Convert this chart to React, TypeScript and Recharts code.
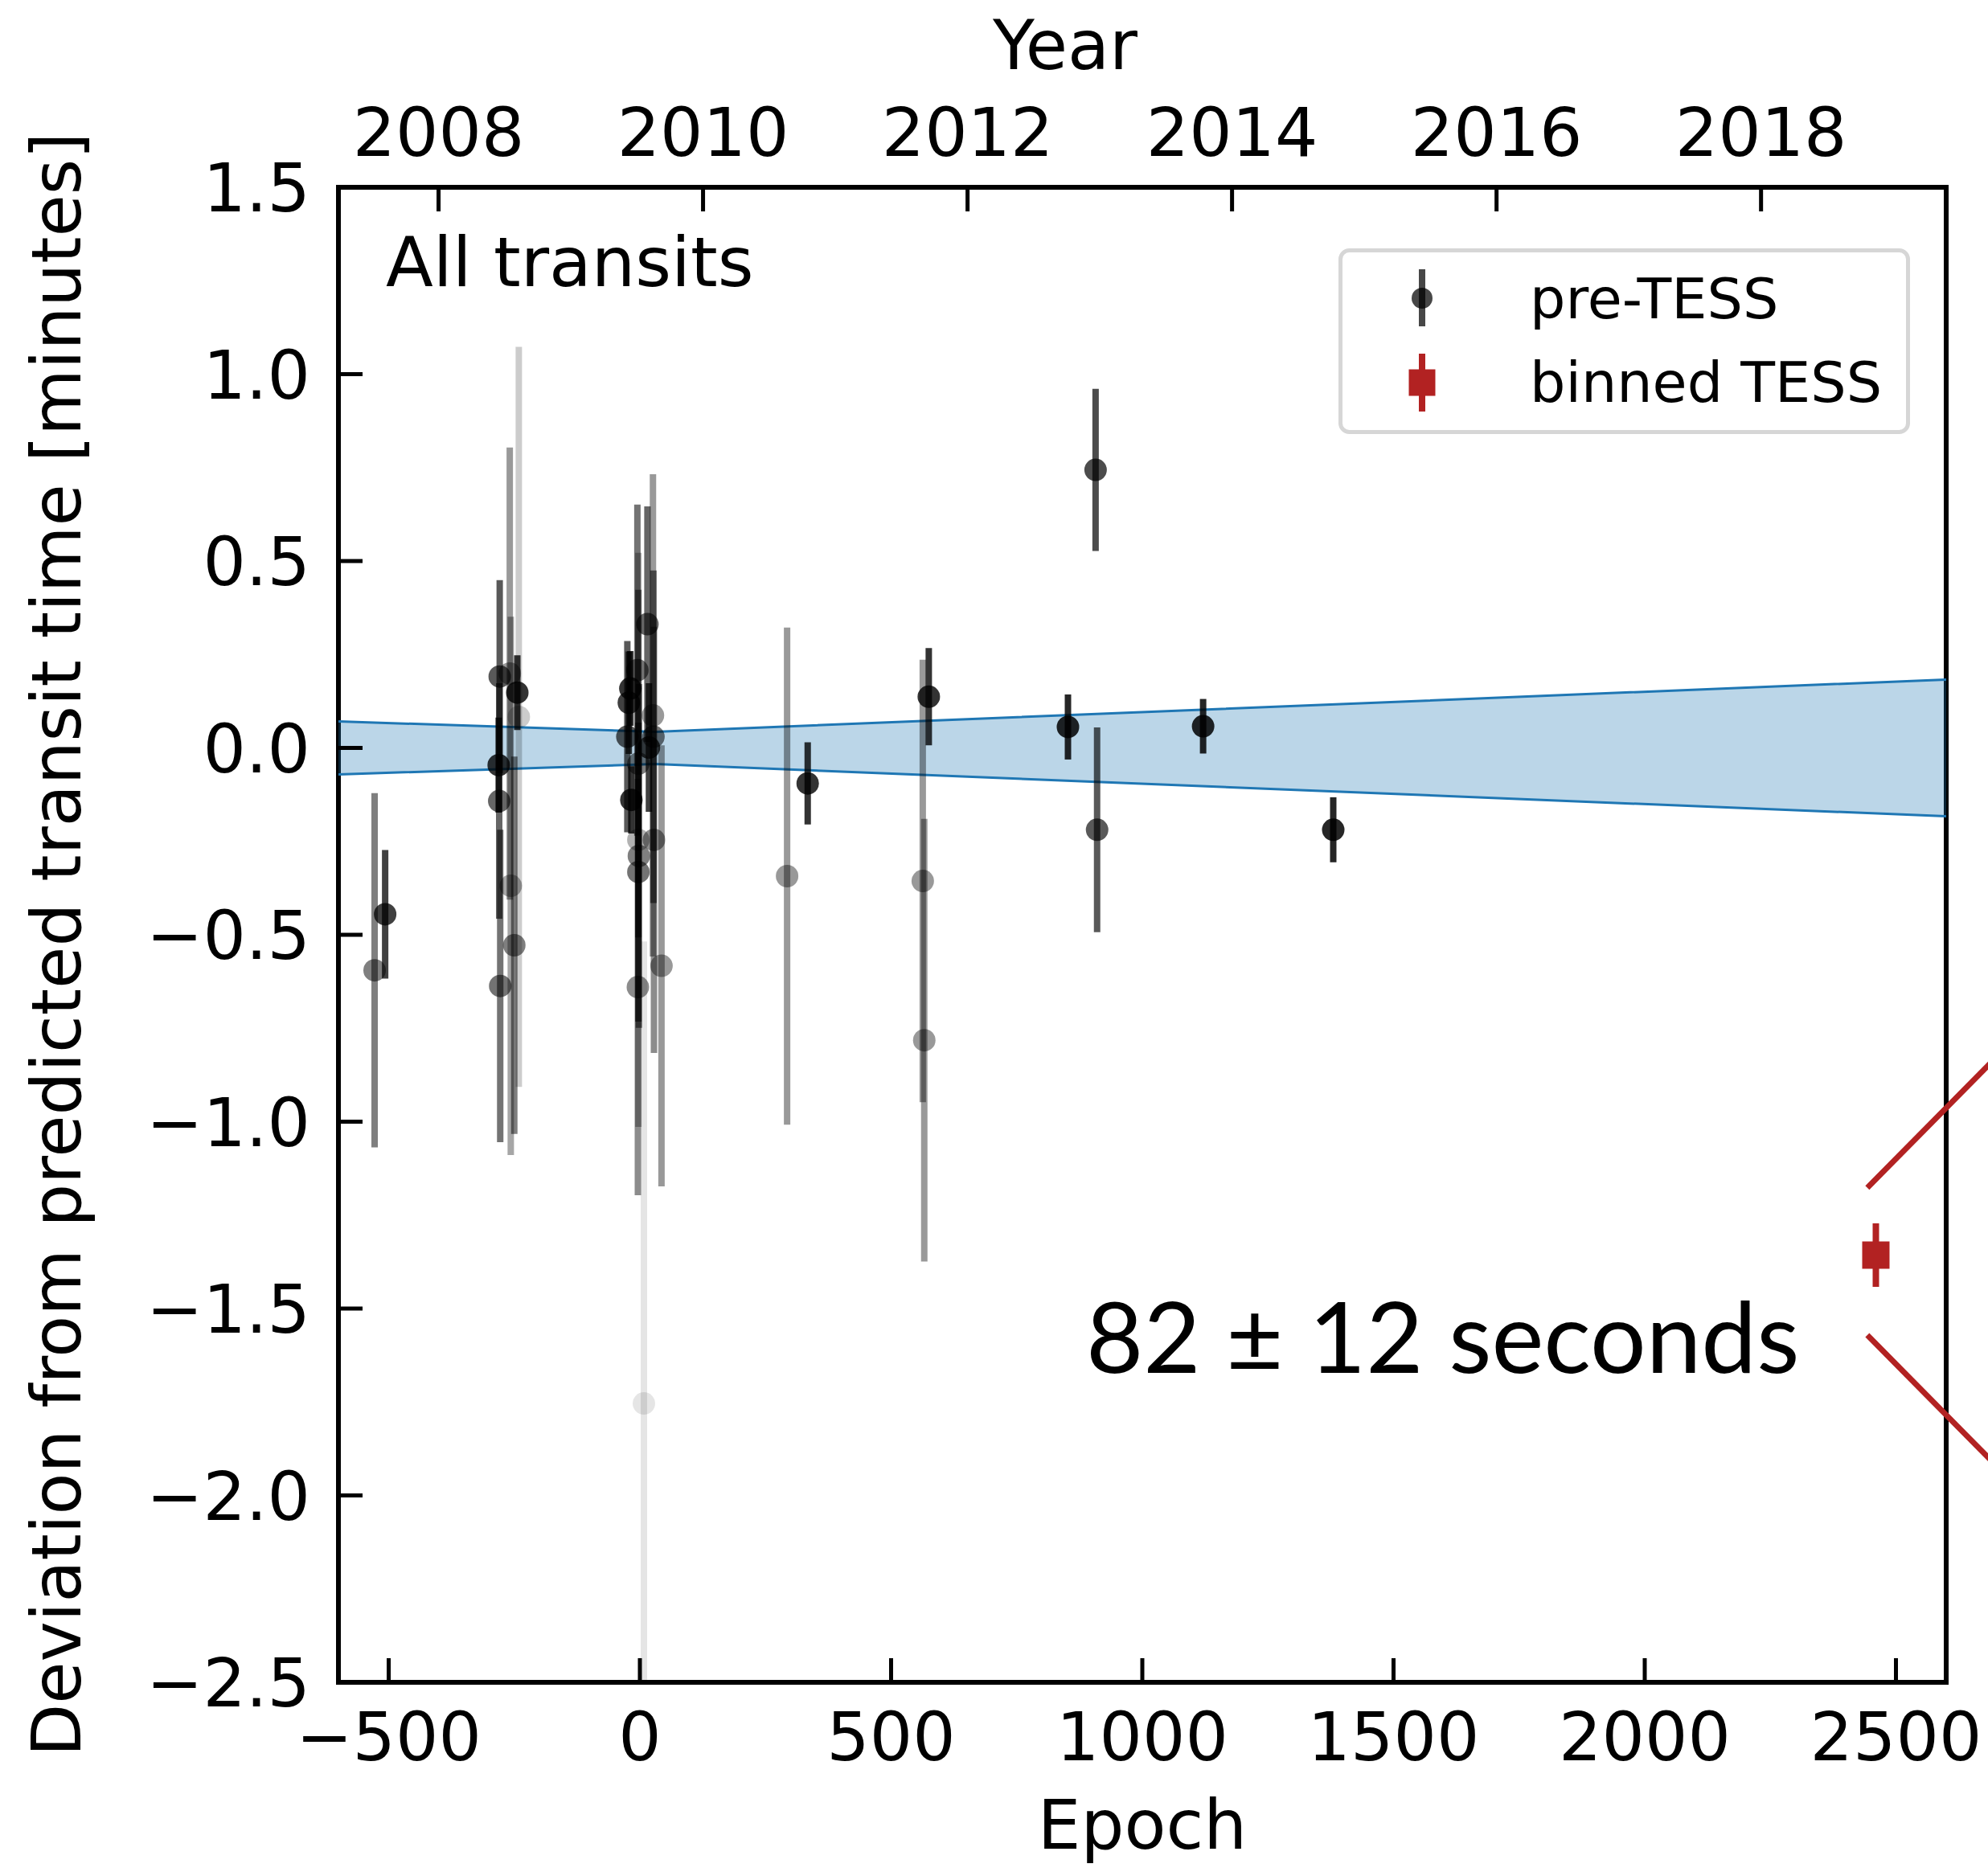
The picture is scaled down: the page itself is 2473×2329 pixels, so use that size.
import React from 'react';
import {
  ComposedChart,
  Scatter,
  Area,
  XAxis,
  YAxis,
  ErrorBar,
  ReferenceLine,
  Legend,
  Customized,
} from 'recharts';

const FONT = '"DejaVu Sans", sans-serif';

// pre-TESS mid-transit times: epoch, deviation from ephemeris [min], 1-sigma error [min]
const preEpoch = [
  -528, -507,
  -281, -280, -279, -278, -259, -257, -250, -244, -241,
  -25, -22, -19, -17, -5, -3, -3, -2, -3, -4, 8, 15, 18, 26, 27, 28, 43,
  293, 334, 563, 566, 575, 852, 907, 910, 1121, 1380,
];
const preDev = [
  -0.595, -0.445,
  -0.046, -0.142, 0.191, -0.637, 0.199, -0.369, -0.528, 0.148, 0.083,
  0.03, 0.121, 0.159, -0.139, 0.208, -0.042, -0.246, -0.289, -0.332, -0.64, -1.754, 0.331, 0.001, 0.087, 0.03, -0.246, -0.583,
  -0.343, -0.095, -0.356, -0.782, 0.137, 0.056, 0.744, -0.219, 0.058, -0.219,
];
const preErr = [
  0.474, 0.172,
  0.127, 0.315, 0.258, 0.418, 0.605, 0.72, 0.505, 0.1, 0.99,
  0.256, 0.137, 0.1, 0.09, 0.443, 0.465, 0.768, 0.46, 0.4, 0.557, 1.236, 0.315, 0.172, 0.645, 0.445, 0.57, 0.59,
  0.665, 0.11, 0.592, 0.592, 0.13, 0.087, 0.217, 0.274, 0.073, 0.087,
];

// binned TESS point
const tessEpoch = [2460];
const tessDev = [-1.357];
const tessErr = [0.085];

// ephemeris uncertainty envelope
const bandEpoch = [-600, 30, 2600];
const bandLow = [-0.071, -0.043, -0.183];
const bandHigh = [0.071, 0.043, 0.183];

// zoom guide lines next to the TESS point
const guideEpoch = [2443, 2800];
const guideUpper = [-1.177, -0.691];
const guideLower = [-1.571, -2.057];

const epochTicks = [-500, 0, 500, 1000, 1500, 2000, 2500];
const yearTicks = [2008, 2010, 2012, 2014, 2016, 2018];
const devTicks = [-2.5, -2.0, -1.5, -1.0, -0.5, 0.0, 0.5, 1.0, 1.5];
const yearDomain = [2007.243, 2019.4];

const W = 2473;
const H = 2329;
const PLOT = { left: 421, top: 233, right: 2421, bottom: 2093 };
const TICK_LEN = 30;
const TICK_W = 5;
const RED = '#b22222';
const BLUE = '#1f77b4';

const minus = (s: string) => s.replace('-', '\u2212');

// points with smaller errors are drawn darker
const opacityOf = (err: number) =>
  Math.max(0.1, Math.min(0.86, 0.95 - 0.78 * Math.pow(err, 0.75)));

const groups = (() => {
  const m = new Map<number, { epoch: number; dev: number; err: number }[]>();
  preEpoch.forEach((e, i) => {
    const a = Math.round(opacityOf(preErr[i]) * 20) / 20;
    if (!m.has(a)) m.set(a, []);
    m.get(a)!.push({ epoch: e, dev: preDev[i], err: preErr[i] });
  });
  return Array.from(m.entries()).sort((a, b) => a[0] - b[0]);
})();

const tessData = tessEpoch.map((e, i) => ({ epoch: e, dev: tessDev[i], err: tessErr[i] }));
const bandData = bandEpoch.map((e, i) => ({ epoch: e, band: [bandLow[i], bandHigh[i]] }));

const LeftTick = (p: any) => (
  <g>
    <line x1={PLOT.left} y1={p.y} x2={PLOT.left + TICK_LEN} y2={p.y} stroke="#000" strokeWidth={TICK_W} />
    <text x={PLOT.left - 35} y={p.y} dy="0.36em" textAnchor="end" fontSize={84} fontFamily={FONT} fill="#000">
      {minus(Number(p.payload.value).toFixed(1))}
    </text>
  </g>
);

const BottomTick = (p: any) => (
  <g>
    <line x1={p.x} y1={PLOT.bottom} x2={p.x} y2={PLOT.bottom - TICK_LEN} stroke="#000" strokeWidth={TICK_W} />
    <text x={p.x} y={2190} textAnchor="middle" fontSize={84} fontFamily={FONT} fill="#000">
      {minus(String(p.payload.value))}
    </text>
  </g>
);

const TopTick = (p: any) => (
  <g>
    <line x1={p.x} y1={PLOT.top} x2={p.x} y2={PLOT.top + TICK_LEN} stroke="#000" strokeWidth={TICK_W} />
    <text x={p.x} y={194} textAnchor="middle" fontSize={84} fontFamily={FONT} fill="#000">
      {String(p.payload.value)}
    </text>
  </g>
);

const Overlay = () => (
  <g>
    <defs>
      <clipPath id="plot-area-clip" clipPathUnits="userSpaceOnUse">
        <rect x={PLOT.left} y={PLOT.top} width={PLOT.right - PLOT.left} height={PLOT.bottom - PLOT.top} />
      </clipPath>
    </defs>
    <style>{'.recharts-errorBar, .recharts-errorBars { clip-path: url(#plot-area-clip); }'}</style>
    <rect
      x={PLOT.left}
      y={PLOT.top}
      width={PLOT.right - PLOT.left}
      height={PLOT.bottom - PLOT.top}
      fill="none"
      stroke="#000"
      strokeWidth={6}
    />
    <text x={480} y={356} fontSize={86} fontFamily={FONT} fill="#000">All transits</text>
    <text x={1351} y={1708} fontSize={123} fontFamily="Lato, sans-serif" fill="#000">82 ± 12 seconds</text>
    <text x={1325} y={86} textAnchor="middle" fontSize={85} fontFamily={FONT} fill="#000">Year</text>
    <text x={1421} y={2300} textAnchor="middle" fontSize={85} fontFamily={FONT} fill="#000">Epoch</text>
    <text
      x={100}
      y={1175}
      transform="rotate(-90 100 1175)"
      textAnchor="middle"
      fontSize={85}
      fontFamily={FONT}
      fill="#000"
    >
      Deviation from predicted transit time [minutes]
    </text>
  </g>
);

const LegendBox = () => (
  <svg width={711} height={231} style={{ display: 'block' }}>
    <rect x={2.5} y={2.5} width={706} height={226} rx={11} fill="#fff" fillOpacity={0.8} stroke="#d6d6d6" strokeWidth={5} />
    <line x1={104} y1={26} x2={104} y2={97} stroke="rgba(0,0,0,0.72)" strokeWidth={8} />
    <circle cx={104} cy={62} r={13} fill="rgba(0,0,0,0.72)" />
    <text x={238} y={87} fontSize={70} fontFamily={FONT} fill="#000">pre-TESS</text>
    <line x1={104} y1={131} x2={104} y2={203} stroke={RED} strokeWidth={8} />
    <rect x={87.5} y={150.5} width={33} height={33} fill={RED} />
    <text x={238} y={191} fontSize={70} fontFamily={FONT} fill="#000">binned TESS</text>
  </svg>
);

export default function App() {
  return (
    <div style={{ position: 'absolute', left: 0, top: 0, width: W, height: H, background: '#fff' }}>
      <ComposedChart width={W} height={H} margin={{ top: 0, right: W - PLOT.right, bottom: 0, left: 0 }}>
        <XAxis
          dataKey="epoch"
          type="number"
          domain={[-600, 2600]}
          allowDataOverflow
          ticks={epochTicks}
          height={H - PLOT.bottom}
          tickSize={0}
          tickMargin={0}
          axisLine={false}
          tickLine={false}
          tick={<BottomTick />}
        />
        <XAxis
          xAxisId="year"
          dataKey="year"
          orientation="top"
          type="number"
          domain={yearDomain}
          allowDataOverflow
          ticks={yearTicks}
          height={PLOT.top}
          tickSize={0}
          tickMargin={0}
          axisLine={false}
          tickLine={false}
          tick={<TopTick />}
        />
        <YAxis
          dataKey="dev"
          type="number"
          domain={[-2.5, 1.5]}
          allowDataOverflow
          ticks={devTicks}
          width={PLOT.left}
          tickSize={0}
          tickMargin={0}
          axisLine={false}
          tickLine={false}
          tick={<LeftTick />}
        />
        <Area
          data={bandData}
          dataKey="band"
          type="linear"
          stroke={BLUE}
          strokeWidth={3}
          fill={BLUE}
          fillOpacity={0.3}
          isAnimationActive={false}
          dot={false}
          activeDot={false}
        />
        {groups.map(([a, rows]) => (
          <Scatter
            key={a}
            data={rows}
            dataKey="dev"
            isAnimationActive={false}
            shape={(p: any) => <circle cx={p.cx} cy={p.cy} r={14} fill="#000" fillOpacity={a} />}
          >
            <ErrorBar dataKey="err" direction="y" width={0} strokeWidth={8} stroke={`rgba(0,0,0,${a})`} />
          </Scatter>
        ))}
        <Scatter
          data={tessData}
          dataKey="dev"
          isAnimationActive={false}
          shape={(p: any) => <rect x={p.cx - 17} y={p.cy - 17} width={34} height={34} fill={RED} />}
        >
          <ErrorBar dataKey="err" direction="y" width={0} strokeWidth={8} stroke={RED} />
        </Scatter>
        <Scatter xAxisId="year" data={[]} dataKey="dev" isAnimationActive={false} />
        <ReferenceLine
          segment={[
            { x: guideEpoch[0], y: guideUpper[0] },
            { x: guideEpoch[1], y: guideUpper[1] },
          ]}
          stroke={RED}
          strokeWidth={7}
          ifOverflow="visible"
        />
        <ReferenceLine
          segment={[
            { x: guideEpoch[0], y: guideLower[0] },
            { x: guideEpoch[1], y: guideLower[1] },
          ]}
          stroke={RED}
          strokeWidth={7}
          ifOverflow="visible"
        />
        <Customized component={<Overlay />} />
        <Legend
          layout="horizontal"
          align="center"
          verticalAlign="middle"
          wrapperStyle={{ left: 1665, top: 309, width: 711, height: 231 }}
          content={() => <LegendBox />}
        />
      </ComposedChart>
    </div>
  );
}
